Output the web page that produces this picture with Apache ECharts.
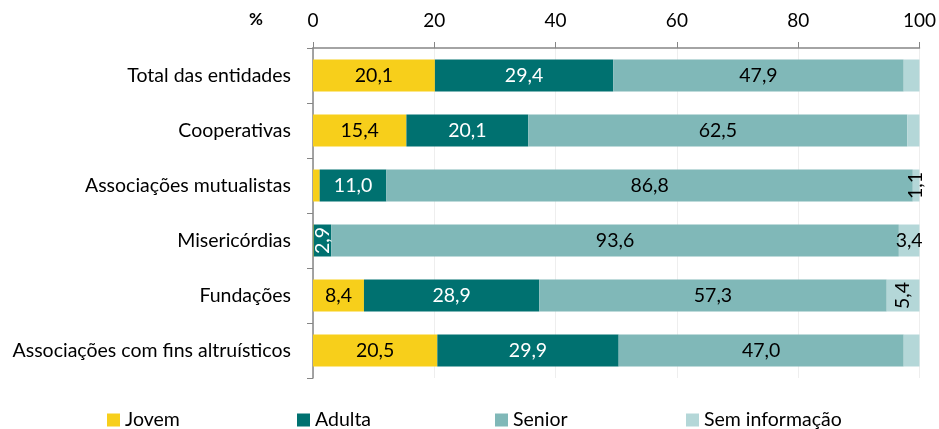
<!DOCTYPE html>
<html>
<head>
<meta charset="utf-8">
<script src="https://cdn.jsdelivr.net/npm/echarts@6/dist/echarts.min.js"></script>
<style>
  html, body { margin: 0; padding: 0; background: #fff; }
  #main { width: 939px; height: 429px; }
</style>
</head>
<body>
<div id="main"></div>
<script>
// categorias (de cima para baixo)
var categorias = ['Total das entidades', 'Cooperativas', 'Associações mutualistas', 'Misericórdias', 'Fundações', 'Associações com fins altruísticos'];
var jovem = [20.1, 15.4, 1.1, 0.1, 8.4, 20.5];
var adulta = [29.4, 20.1, 11.0, 2.9, 28.9, 29.9];
var senior = [47.9, 62.5, 86.8, 93.6, 57.3, 47.0];
var semInfo = [2.6, 2.0, 1.1, 3.4, 5.4, 2.6];
var ticksX = [0, 20, 40, 60, 80, 100];

var fonte = 'Lato';
var cores = ['#F7CF1B', '#007170', '#80B8B8', '#B4D7D8'];

function fmt(v) { return v.toFixed(1).replace('.', ','); }

// etiquetas: quais mostrar e quais rodar
function montar(vals, mostrar, rodar) {
  return vals.map(function (v, i) {
    var item = { value: v };
    if (mostrar.indexOf(i) < 0) {
      item.label = { show: false };
    } else if (rodar.indexOf(i) >= 0) {
      item.label = { rotate: 90 };
    }
    return item;
  });
}

var baseLabel = {
  show: true,
  position: 'inside',
  fontFamily: fonte,
  fontSize: 19.5,
  formatter: function (p) { return fmt(p.value); }
};

var myChart = echarts.init(document.getElementById('main'));
var option = {
  animation: false,
  textStyle: { fontFamily: fonte },
  grid: { left: 313, right: 18, top: 48, bottom: 51 },
  xAxis: {
    type: 'value',
    position: 'top',
    min: 0,
    max: 100,
    interval: 20,
    axisLine: { show: true, lineStyle: { color: '#868686', width: 1.5 } },
    axisTick: { show: true, length: 6, lineStyle: { color: '#868686' } },
    axisLabel: { color: '#000', fontSize: 19, fontFamily: fonte, margin: 18,
      formatter: function (v) { return ticksX.indexOf(v) >= 0 ? v : ''; } },
    splitLine: { show: true, lineStyle: { color: '#EEEEEE' } }
  },
  yAxis: {
    type: 'category',
    inverse: true,
    data: categorias,
    axisLine: { show: true, lineStyle: { color: '#868686', width: 1.5 } },
    axisTick: { show: true, length: 6, lineStyle: { color: '#868686' } },
    axisLabel: { color: '#000', fontSize: 19.5, fontFamily: fonte, margin: 22 }
  },
  legend: [
    { data: ['Jovem'], left: 102 },
    { data: ['Adulta'], left: 292 },
    { data: ['Senior'], left: 490 },
    { data: ['Sem informação'], left: 681 }
  ].map(function (l) {
    l.top = 405;
    l.icon = 'rect';
    l.itemWidth = 13;
    l.itemHeight = 13;
    l.itemGap = 4;
    l.textStyle = { fontSize: 19.5, fontFamily: fonte, color: '#000' };
    return l;
  }),
  graphic: [{
    type: 'text',
    left: 249,
    top: 11,
    style: { text: '%', font: 'bold 17px ' + fonte, fill: '#000' }
  }],
  series: [
    {
      name: 'Jovem', type: 'bar', stack: 'total', barWidth: 32,
      itemStyle: { color: cores[0] },
      label: Object.assign({}, baseLabel, { color: '#000' }),
      data: montar(jovem, [0, 1, 4, 5], [])
    },
    {
      name: 'Adulta', type: 'bar', stack: 'total',
      itemStyle: { color: cores[1] },
      label: Object.assign({}, baseLabel, { color: '#fff' }),
      data: montar(adulta, [0, 1, 2, 3, 4, 5], [3])
    },
    {
      name: 'Senior', type: 'bar', stack: 'total',
      itemStyle: { color: cores[2] },
      label: Object.assign({}, baseLabel, { color: '#000' }),
      data: montar(senior, [0, 1, 2, 3, 4, 5], [])
    },
    {
      name: 'Sem informação', type: 'bar', stack: 'total',
      itemStyle: { color: cores[3] },
      label: Object.assign({}, baseLabel, { color: '#000' }),
      data: montar(semInfo, [2, 3, 4], [2, 4])
    }
  ]
};
myChart.setOption(option);
</script>
</body>
</html>
